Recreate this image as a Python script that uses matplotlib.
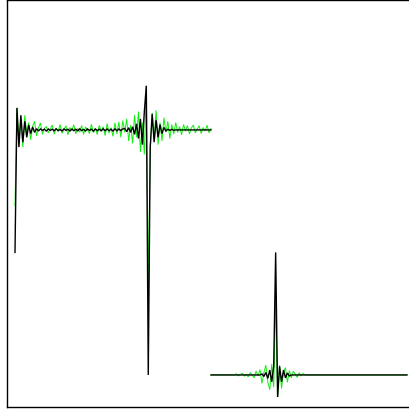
import matplotlib
matplotlib.use("Agg")
import matplotlib.pyplot as plt
import numpy as np

# Two-level signal with Gibbs-type ringing at the jumps.
# Segment A: samples 0..100 (upper level), segment B: samples 100..200 (lower level).

black_a = [
    0.50, 1.09, 0.93, 1.06, 0.95, 1.035, 0.97, 1.02, 0.985, 1.012, 0.99,
    1.005, 0.996, 1.004, 0.998, 1.003, 0.995, 1.004, 0.998, 1.003, 0.996,
    1.005, 0.997, 1.002, 0.996, 1.004, 0.998, 1.003, 0.995, 1.004, 0.997,
    1.003, 0.996, 1.005, 0.997, 1.002, 0.996, 1.004, 0.998, 1.003, 0.995,
    1.004, 0.997, 1.003, 0.996, 1.005, 0.996, 1.004, 0.997, 1.003, 0.995,
    1.005, 0.996, 1.004, 0.997, 1.004,
    1.006, 0.993, 1.009, 0.99, 1.013, 0.982, 1.025, 0.965, 1.045, 0.94, 1.075,
    1.18, 0.0,
    0.93, 1.065, 0.95, 1.04, 0.97, 1.022, 0.985, 1.01, 0.995,
    1.003, 0.998, 1.002, 0.999, 1.0, 1.0, 1.0, 1.0, 1.0, 1.0, 1.0, 1.0,
    1.0, 1.0, 1.0, 1.0, 1.0, 1.0, 1.0, 1.0, 1.0, 1.0, 1.0,
]

green_a = [
    0.69, 1.09, 0.95, 1.04, 0.93, 1.06, 0.985, 1.03, 0.96, 1.015, 1.035,
    0.975, 1.01, 1.028, 0.982, 1.006,
    1.014, 0.988, 1.004, 1.02, 0.983, 1.008, 0.994, 1.022, 0.986, 1.002,
    1.017, 0.98, 1.01, 0.997, 1.021, 0.984, 1.006, 0.991, 1.018, 0.982,
    1.012, 1.0, 0.985, 1.023, 0.989, 1.007, 0.981, 1.019, 0.995, 1.013,
    0.977, 1.026, 0.987, 1.009, 0.974, 1.029, 0.984, 1.033, 0.97, 1.038,
    0.99, 1.045, 0.955, 1.02, 0.945, 1.06, 0.97, 1.075, 0.91, 1.03, 0.90,
    1.18, 0.38,
    0.92, 1.07, 0.96, 1.08, 0.94, 1.03, 0.955, 1.05, 0.99, 1.035, 0.965, 1.022,
    0.983, 1.03, 0.99, 1.014, 0.98, 1.022, 0.995, 1.018, 0.984, 1.008,
    1.02, 0.988, 1.004, 1.017, 0.985, 1.01, 0.996, 1.019, 0.988, 1.006,
]

black_b = [
    0.0, 0.0, 0.0, 0.0, 0.0, 0.0, 0.0, 0.0, 0.0, 0.0,
    0.0, 0.0, 0.0, 0.0, 0.0, 0.0, 0.0, 0.0, 0.0, 0.0,
    0.0, 0.0, 0.0, 0.0, 0.0, 0.0,
    0.004, -0.006, 0.01, -0.014, 0.02, -0.028, 0.035,
    0.5, -0.09,
    0.035, -0.028, 0.02, -0.012, 0.008, -0.004,
    0.0, 0.0, 0.0, 0.0, 0.0, 0.0, 0.0, 0.0, 0.0, 0.0,
    0.0, 0.0, 0.0, 0.0, 0.0, 0.0, 0.0, 0.0, 0.0, 0.0,
    0.0, 0.0, 0.0, 0.0, 0.0, 0.0, 0.0, 0.0, 0.0, 0.0,
    0.0, 0.0, 0.0, 0.0, 0.0, 0.0, 0.0, 0.0, 0.0, 0.0,
    0.0, 0.0, 0.0, 0.0, 0.0, 0.0, 0.0, 0.0, 0.0, 0.0,
    0.0, 0.0, 0.0, 0.0, 0.0, 0.0, 0.0, 0.0, 0.0, 0.0,
]

green_b = [
    0.0, 0.0, 0.0, 0.0, 0.0, 0.0, 0.0, 0.0, 0.0, 0.0,
    0.0, 0.0, 0.0,
    0.005, -0.004, 0.002, 0.007, -0.005, 0.003, -0.008, 0.01, 0.0,
    -0.012, 0.016, -0.004, 0.022,
    -0.035, 0.01, 0.04, -0.03, -0.06, 0.045, -0.05,
    0.306, -0.09,
    0.04, -0.055, 0.012, 0.03, -0.03, 0.018, -0.012, 0.015, 0.004,
    -0.01, 0.009, -0.004, 0.006,
    0.0, 0.0, 0.0, 0.0, 0.0, 0.0, 0.0, 0.0, 0.0, 0.0,
    0.0, 0.0, 0.0, 0.0, 0.0, 0.0, 0.0, 0.0, 0.0, 0.0,
    0.0, 0.0, 0.0, 0.0, 0.0, 0.0, 0.0, 0.0, 0.0, 0.0,
    0.0, 0.0, 0.0, 0.0, 0.0, 0.0, 0.0, 0.0, 0.0, 0.0,
    0.0, 0.0, 0.0, 0.0, 0.0, 0.0, 0.0, 0.0, 0.0, 0.0,
    0.0, 0.0, 0.0,
]

start_a = 0
start_b = 100

fig = plt.figure(figsize=(4.09, 4.12), dpi=100)
ax = fig.add_axes([0.0171, 0.011, 1.0, 0.988])

for vals, start in ((green_a, start_a), (green_b, start_b)):
    xs = start + np.arange(len(vals))
    ax.plot(xs, vals, color="#11ee11", lw=0.7, solid_joinstyle="miter")
for vals, start in ((black_a, start_a), (black_b, start_b)):
    xs = start + np.arange(len(vals))
    ax.plot(xs, vals, color="black", lw=1.0, solid_joinstyle="miter")

ax.set_xlim(-4.08, 204.6)
ax.set_ylim(-0.1327, 1.5286)
ax.set_xticks([])
ax.set_yticks([])
for sp in ax.spines.values():
    sp.set_linewidth(1.0)
    sp.set_color("black")

fig.savefig("out.png", dpi=100)
